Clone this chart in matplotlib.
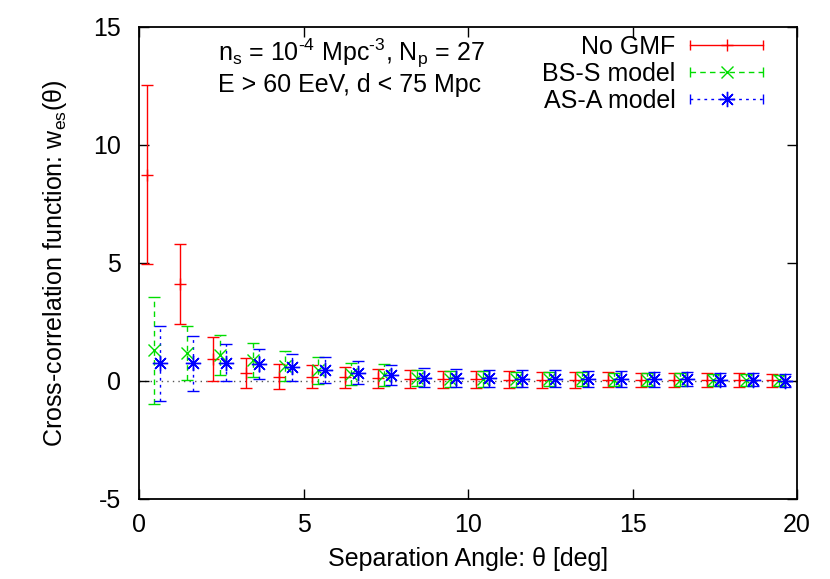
import matplotlib
matplotlib.use('Agg')
import matplotlib.pyplot as plt
from matplotlib.lines import Line2D
from matplotlib.legend_handler import HandlerBase

plt.rcParams['font.family'] = ['Liberation Sans', 'DejaVu Sans']
plt.rcParams['mathtext.fontset'] = 'custom'
plt.rcParams['mathtext.rm'] = 'Liberation Sans'
plt.rcParams['mathtext.it'] = 'Liberation Sans:italic'
plt.rcParams['mathtext.bf'] = 'Liberation Sans:bold'
plt.rcParams['axes.unicode_minus'] = False

# 数据：三种模型的互相关函数及误差
theta_nogmf = [0.25, 1.25, 2.25, 3.25, 4.25, 5.25, 6.25, 7.25, 8.25, 9.25,
               10.25, 11.25, 12.25, 13.25, 14.25, 15.25, 16.25, 17.25, 18.25, 19.25]
w_nogmf = [8.75, 4.1, 0.95, 0.35, 0.18, 0.18, 0.15, 0.12, 0.08, 0.07,
           0.07, 0.06, 0.06, 0.05, 0.05, 0.05, 0.04, 0.04, 0.04, 0.03]
err_nogmf = [3.8, 1.7, 0.93, 0.64, 0.53, 0.48, 0.43, 0.40, 0.38, 0.37,
             0.36, 0.35, 0.34, 0.33, 0.32, 0.31, 0.30, 0.29, 0.28, 0.27]

theta_bss = [0.45, 1.45, 2.45, 3.45, 4.45, 5.45, 6.45, 7.45, 8.45, 9.45,
             10.45, 11.45, 12.45, 13.45, 14.45, 15.45, 16.45, 17.45, 18.45, 19.45]
w_bss = [1.3, 1.2, 1.1, 0.9, 0.65, 0.45, 0.3, 0.25, 0.12, 0.1,
         0.09, 0.08, 0.08, 0.07, 0.06, 0.05, 0.05, 0.04, 0.04, 0.03]
err_bss = [2.28, 1.15, 0.85, 0.73, 0.63, 0.56, 0.48, 0.45, 0.35, 0.34,
           0.33, 0.32, 0.31, 0.30, 0.29, 0.28, 0.27, 0.26, 0.25, 0.24]

theta_asa = [0.65, 1.65, 2.65, 3.65, 4.65, 5.65, 6.65, 7.65, 8.65, 9.65,
             10.65, 11.65, 12.65, 13.65, 14.65, 15.65, 16.65, 17.65, 18.65, 19.65]
w_asa = [0.75, 0.75, 0.78, 0.72, 0.58, 0.47, 0.35, 0.25, 0.13, 0.11,
         0.11, 0.1, 0.1, 0.09, 0.08, 0.08, 0.07, 0.06, 0.05, 0.02]
err_asa = [1.6, 1.17, 0.8, 0.65, 0.57, 0.55, 0.48, 0.42, 0.4, 0.38,
           0.37, 0.36, 0.35, 0.34, 0.33, 0.32, 0.3, 0.29, 0.28, 0.26]

labels = ['No GMF', 'BS-S model', 'AS-A model']

FS = 18
RED = '#ff0000'
GREEN = '#00dd00'
BLUE = '#0000ff'
STAR = (8, 2, 0)


# gnuplot 风格的图例：横线 + 两端短竖线 + 中间点
class ErrorbarKey(HandlerBase):
    def __init__(self, color, ls, marker, ms):
        super().__init__()
        self.color, self.ls, self.marker, self.ms = color, ls, marker, ms

    def create_artists(self, legend, orig_handle, xdescent, ydescent,
                       width, height, fontsize, trans):
        x0, x1 = -xdescent, width - xdescent
        y = (height - ydescent) / 2
        line = Line2D([x0, x1], [y, y], color=self.color, ls=self.ls, lw=1)
        caps = Line2D([x0, x1], [y, y], color=self.color, ls='none',
                      marker='|', ms=7, mew=1)
        pt = Line2D([(x0 + x1) / 2], [y], color=self.color, ls='none',
                    marker=self.marker, ms=self.ms, mew=1)
        for a in (line, caps, pt):
            a.set_transform(trans)
        return [line, caps, pt]


def draw_series(ax, x, y, err, color, ls, marker, ms):
    eb = ax.errorbar(x, y, yerr=err, fmt='', ls='none', marker=marker,
                     color=color, ms=ms, mew=1,
                     capsize=4, capthick=1, elinewidth=1)
    eb[2][0].set_linestyle(ls)
    return eb


fig = plt.figure(figsize=(8.3, 5.79), dpi=100)
ax = fig.add_axes([139 / 830, 1 - 499 / 579, 658 / 830, 472 / 579])

ax.axhline(0, color='#555555', lw=1, ls=(0, (1, 3)), zorder=0)

eb_red = draw_series(ax, theta_nogmf, w_nogmf, err_nogmf, RED, '-', '+', 9)
eb_green = draw_series(ax, theta_bss, w_bss, err_bss, GREEN, (0, (4, 3)), 'x', 9)
eb_blue = draw_series(ax, theta_asa, w_asa, err_asa, BLUE, (0, (2, 3)), STAR, 11)

ax.set_xlim(0, 20)
ax.set_ylim(-5, 15)
ax.set_xticks([0, 5, 10, 15, 20])
ax.set_yticks([-5, 0, 5, 10, 15])
ax.tick_params(direction='in', top=True, right=True, length=7, width=1,
               labelsize=FS)
ax.tick_params(axis='y', pad=13)
ax.tick_params(axis='x', pad=10)
for s in ax.spines.values():
    s.set_linewidth(1.3)

ax.set_xlabel('Separation Angle: θ [deg]', fontsize=FS, labelpad=7)
ax.set_ylabel('Cross-correlation function: w$_{\\mathrm{es}}$(θ)', fontsize=FS, labelpad=17)

ax.text(0.12, 0.945, 'n$_{\\mathrm{s}}$ = 10$^{\\text{-4}}$ Mpc$^{\\text{-3}}$, N$_{\\mathrm{p}}$ = 27',
        transform=ax.transAxes, fontsize=FS, va='center', ha='left')
ax.text(0.12, 0.877, 'E > 60 EeV, d < 75 Mpc',
        transform=ax.transAxes, fontsize=FS, va='center', ha='left')

ax.legend([eb_red, eb_green, eb_blue], labels,
          handler_map={eb_red: ErrorbarKey(RED, '-', '+', 9),
                       eb_green: ErrorbarKey(GREEN, (0, (4, 3)), 'x', 9),
                       eb_blue: ErrorbarKey(BLUE, (0, (2, 3)), STAR, 11)},
          loc='upper right', bbox_to_anchor=(0.9635, 1.004),
          frameon=False, markerfirst=False, fontsize=FS,
          handlelength=2.9, handletextpad=0.6, labelspacing=0.12,
          borderaxespad=0)

fig.savefig('out.png', dpi=100)
